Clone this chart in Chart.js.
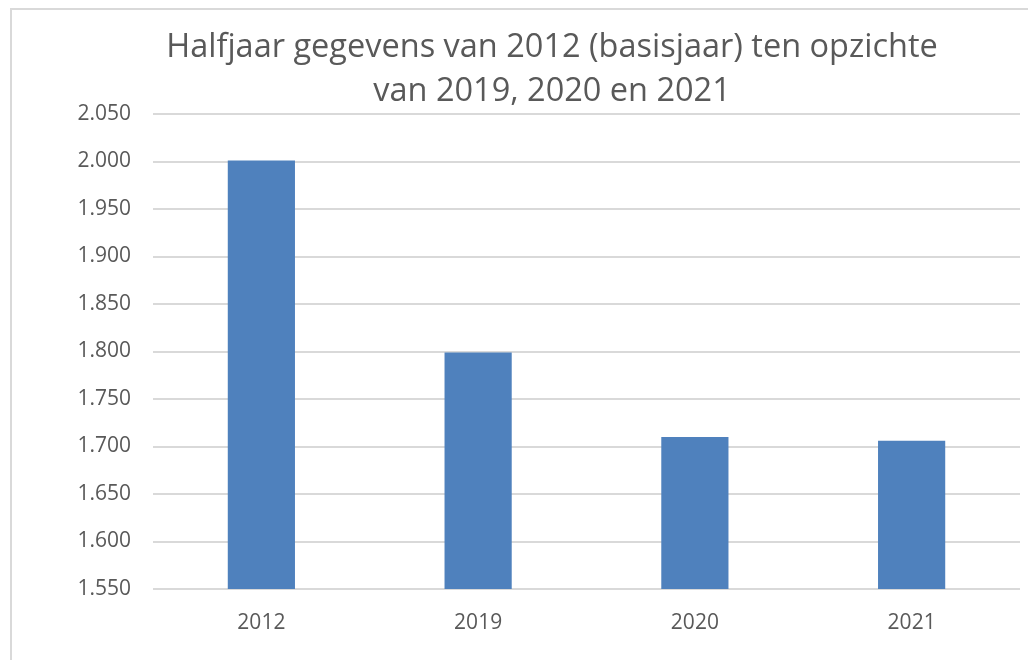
<!DOCTYPE html>
<html>
<head>
<meta charset="utf-8">
<script src="https://cdn.jsdelivr.net/npm/chart.js@4/dist/chart.umd.min.js"></script>
<style>
  html, body { margin: 0; padding: 0; background: #fff; overflow: hidden; width: 1028px; height: 660px; }
  #box { position: absolute; left: 10px; top: 8px; width: 1080px; height: 680px; border-left: 2px solid #d9d9d9; border-top: 2px solid #d9d9d9; background: #fff; }
  #wrap { position: absolute; left: 0; top: 0; width: 1080px; height: 650px; }
</style>
</head>
<body>
<div id="box"><div id="wrap"><canvas id="c" width="1080" height="650"></canvas></div></div>
<script>
const titleLines = ["Halfjaar gegevens van 2012 (basisjaar) ten opzichte", "van 2019, 2020 en 2021"];
const categories = ["2012", "2019", "2020", "2021"];
const values = [2001, 1799, 1710, 1706];
const yMin = 1550;
const yMax = 2050;
const yStep = 50;

function fmtNL(v) {
  const s = String(Math.round(v));
  return s.replace(/\B(?=(\d{3})+(?!\d))/g, ".");
}

const FONT = "'Open Sans', 'Liberation Sans', sans-serif";

// Center the title over the whole chart box (not just the padded area)
const centerTitle = {
  id: 'centerTitle',
  afterLayout(chart) {
    const t = chart.titleBlock;
    if (t) { t.left = 0; t.right = chart.width; t.width = chart.width; }
  }
};

new Chart(document.getElementById('c'), {
  type: 'bar',
  data: {
    labels: categories,
    datasets: [{
      data: values,
      backgroundColor: '#4f81bd',
      borderWidth: 0,
      barPercentage: 0.31,
      categoryPercentage: 1.0
    }]
  },
  options: {
    responsive: false,
    animation: false,
    devicePixelRatio: 1,
    layout: { padding: { left: 0, right: 72, top: 0, bottom: 0 } },
    plugins: {
      legend: { display: false },
      tooltip: { enabled: false },
      title: {
        display: true,
        text: titleLines,
        color: '#595959',
        font: { family: FONT, size: 32.5, weight: 'normal', lineHeight: 1.354 },
        padding: { top: 16, bottom: 0 }
      }
    },
    scales: {
      x: {
        grid: { display: false, drawTicks: false },
        border: { display: false },
        ticks: { color: '#595959', font: { family: FONT, size: 21 }, padding: 21, maxRotation: 0 },
        afterFit: (s) => { s.height = 71; }
      },
      y: {
        min: yMin,
        max: yMax,
        grid: { color: '#d9d9d9', lineWidth: 2, drawTicks: false },
        border: { display: false },
        ticks: {
          stepSize: yStep,
          color: '#595959',
          font: { family: FONT, size: 21 },
          padding: 22,
          callback: (v) => fmtNL(v)
        },
        afterFit: (s) => { s.width = 141; }
      }
    }
  },
  plugins: [centerTitle]
});
</script>
</body>
</html>
